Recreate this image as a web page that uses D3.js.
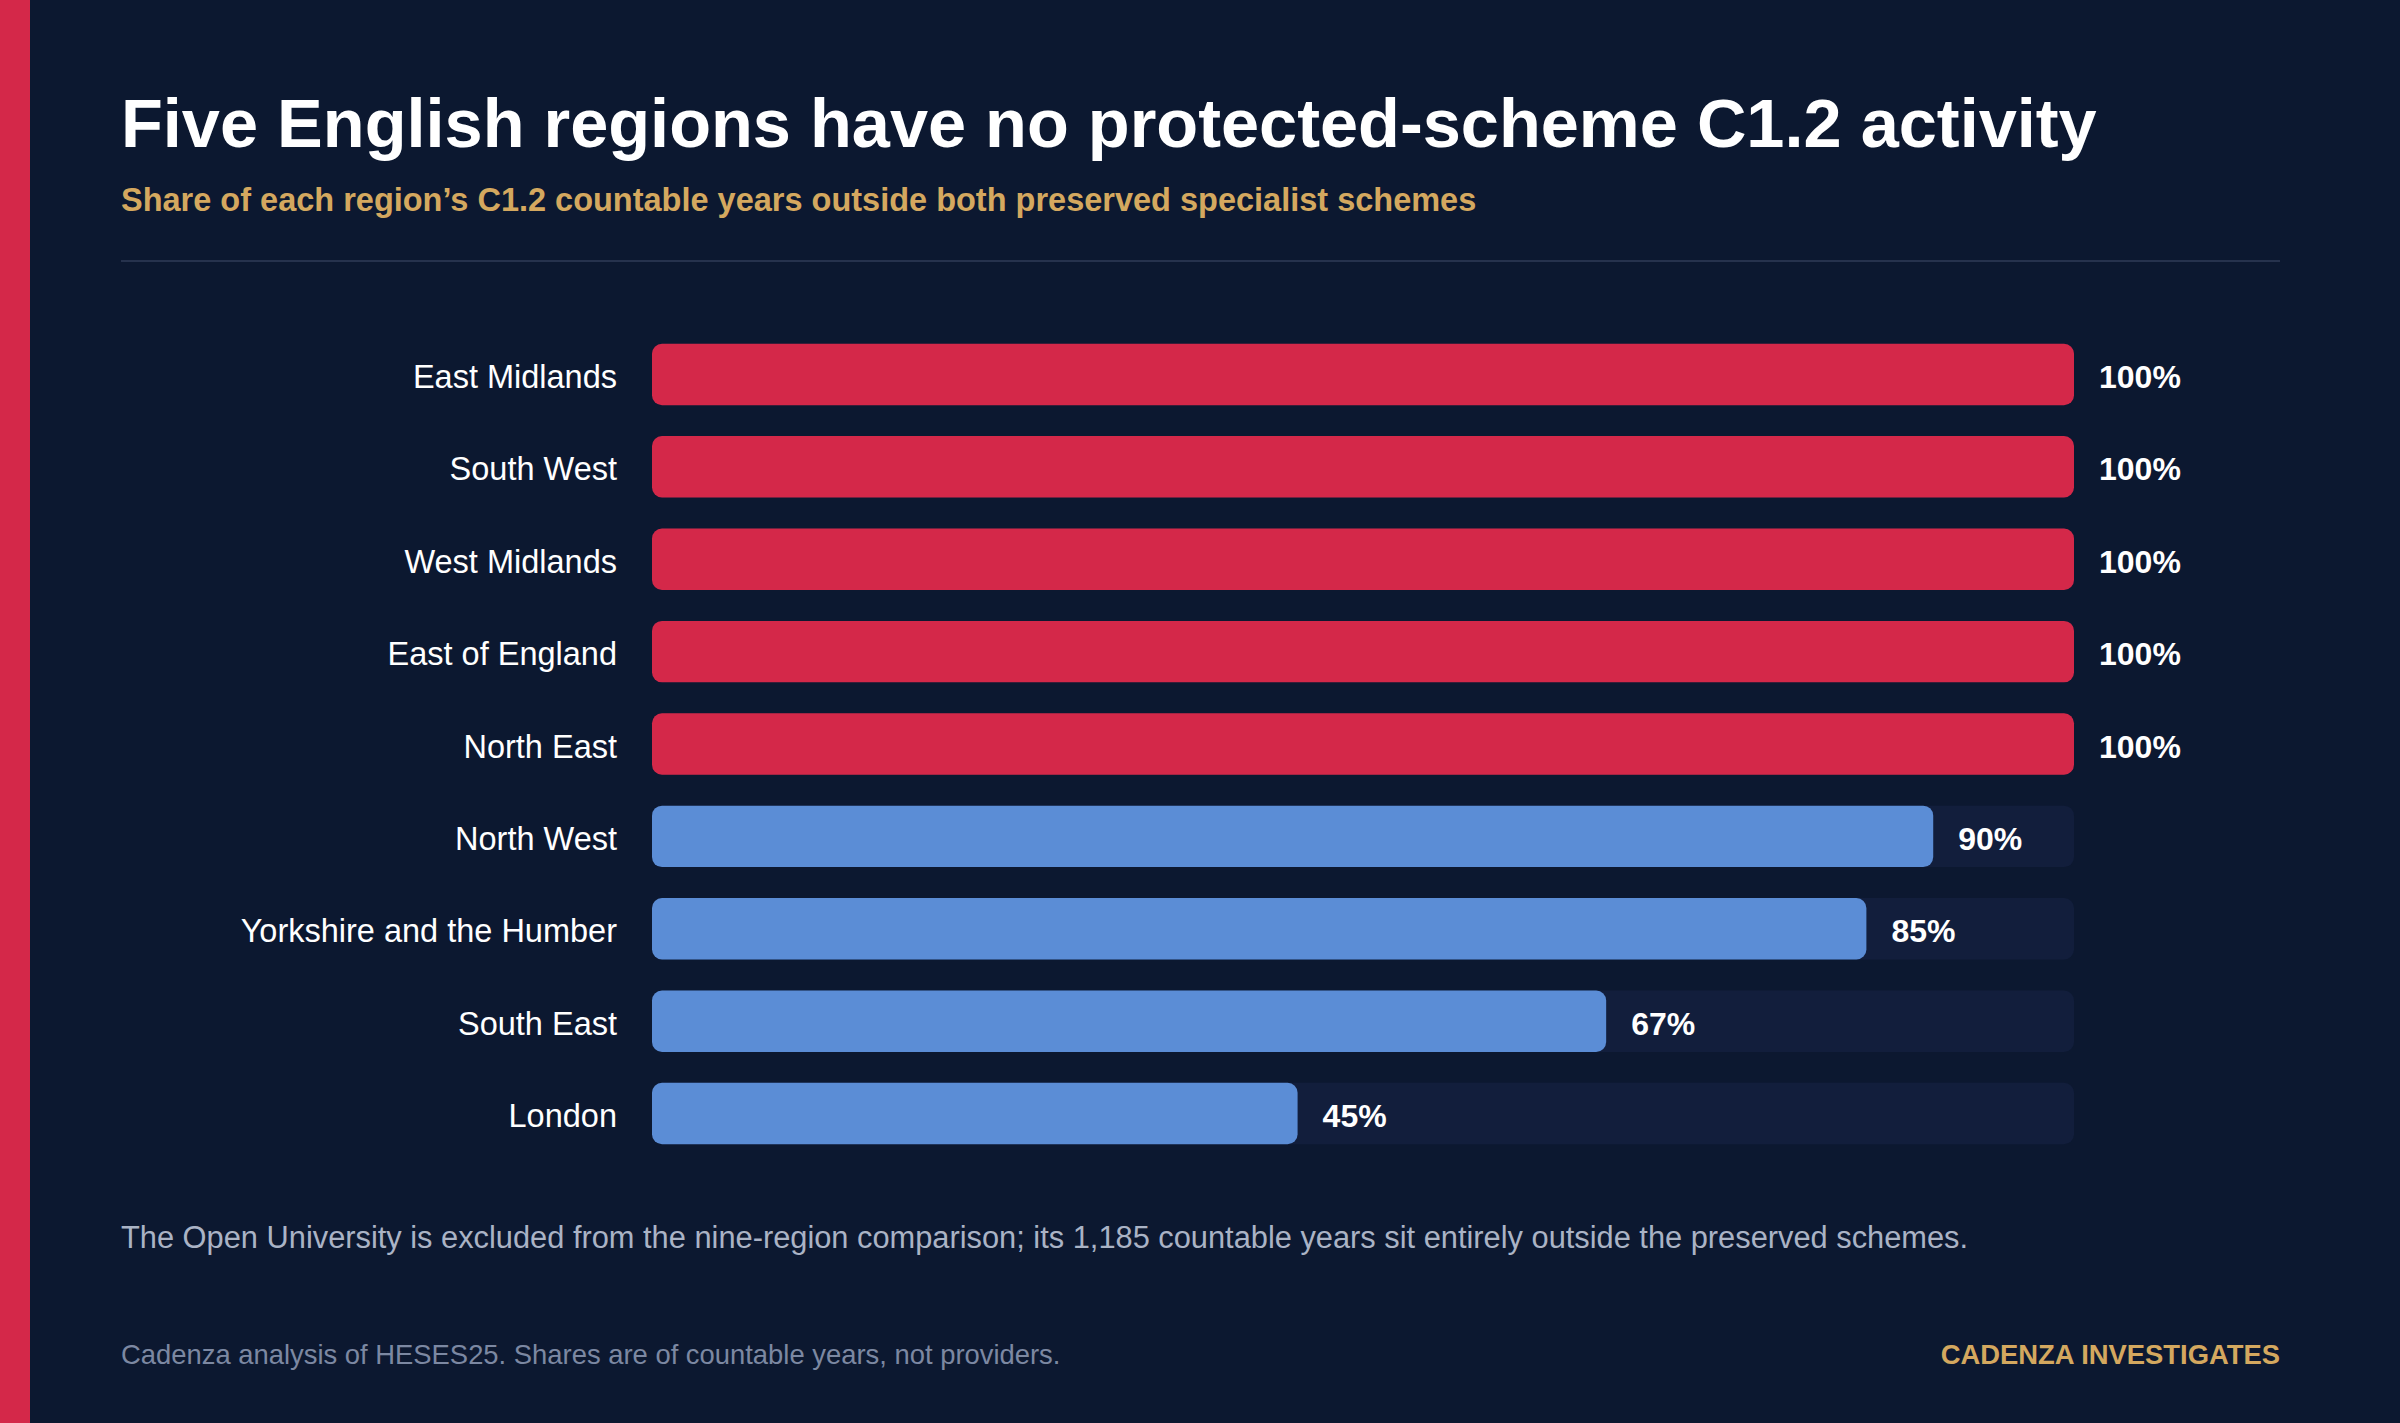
<!DOCTYPE html>
<html lang="en">
<head>
<meta charset="utf-8">
<title>Five English regions have no protected-scheme C1.2 activity</title>
<script src="https://d3js.org/d3.v7.min.js"></script>
<style>
  html, body { margin: 0; padding: 0; background: #0c1830; }
  svg { display: block; font-family: "Liberation Sans", Arial, Helvetica, sans-serif; }
</style>
</head>
<body>
<script>
// Data
var regions = ["East Midlands", "South West", "West Midlands", "East of England", "North East",
               "North West", "Yorkshire and the Humber", "South East", "London"];
var shares = [100, 100, 100, 100, 100, 90.1, 85.4, 67.1, 45.4];
var valueLabels = ["100%", "100%", "100%", "100%", "100%", "90%", "85%", "67%", "45%"];

var W = 2400, H = 1423;
var bg = "#0c1830", red = "#d42849", blue = "#5b8dd6", track = "#121e3c", gold = "#d4a85f";

var svg = d3.select("body").append("svg")
    .attr("width", W)
    .attr("height", H);

svg.append("rect").attr("width", W).attr("height", H).attr("fill", bg);
// left accent strip
svg.append("rect").attr("x", 0).attr("y", 0).attr("width", 30).attr("height", H).attr("fill", red);

// title block
svg.append("text")
    .attr("x", 121).attr("y", 147)
    .attr("fill", "#ffffff")
    .attr("font-size", 68.5).attr("font-weight", 700)
    .text("Five English regions have no protected-scheme C1.2 activity");

svg.append("text")
    .attr("x", 121).attr("y", 211)
    .attr("fill", gold)
    .attr("font-size", 32.5).attr("font-weight", 700)
    .text("Share of each region\u2019s C1.2 countable years outside both preserved specialist schemes");

svg.append("line")
    .attr("x1", 121).attr("x2", 2280)
    .attr("y1", 261).attr("y2", 261)
    .attr("stroke", "#26324d").attr("stroke-width", 2);

// scales
var x = d3.scaleLinear().domain([0, 100]).range([652, 2074]);
var y = d3.scaleBand().domain(regions).range([328, 1160]).paddingInner(0.335).paddingOuter(0.17);

var rows = svg.append("g").selectAll("g")
    .data(regions)
    .enter().append("g");

// background track
rows.append("rect")
    .attr("x", x(0))
    .attr("y", function(d) { return y(d); })
    .attr("width", x(100) - x(0))
    .attr("height", y.bandwidth())
    .attr("rx", 10)
    .attr("fill", track);

rows.append("rect")
    .attr("x", x(0))
    .attr("y", function(d) { return y(d); })
    .attr("width", function(d, i) { return x(shares[i]) - x(0); })
    .attr("height", y.bandwidth())
    .attr("rx", 10)
    .attr("fill", function(d, i) { return shares[i] >= 100 ? red : blue; });

rows.append("text")
    .attr("x", 617)
    .attr("y", function(d) { return y(d) + y.bandwidth() / 2 + 13.5; })
    .attr("text-anchor", "end")
    .attr("fill", "#ffffff")
    .attr("font-size", 32.5)
    .text(function(d) { return d; });

rows.append("text")
    .attr("x", function(d, i) { return x(shares[i]) + 25; })
    .attr("y", function(d) { return y(d) + y.bandwidth() / 2 + 13.5; })
    .attr("fill", "#ffffff")
    .attr("font-size", 32).attr("font-weight", 700)
    .text(function(d, i) { return valueLabels[i]; });

// notes
svg.append("text")
    .attr("x", 121).attr("y", 1248)
    .attr("fill", "#aab3c5")
    .attr("font-size", 30.8)
    .text("The Open University is excluded from the nine-region comparison; its 1,185 countable years sit entirely outside the preserved schemes.");

svg.append("text")
    .attr("x", 121).attr("y", 1364)
    .attr("fill", "#7c88a2")
    .attr("font-size", 27.4)
    .text("Cadenza analysis of HESES25. Shares are of countable years, not providers.");

svg.append("text")
    .attr("x", 2280).attr("y", 1364)
    .attr("text-anchor", "end")
    .attr("fill", gold)
    .attr("font-size", 27.4).attr("font-weight", 700)
    .text("CADENZA INVESTIGATES");
</script>
</body>
</html>
